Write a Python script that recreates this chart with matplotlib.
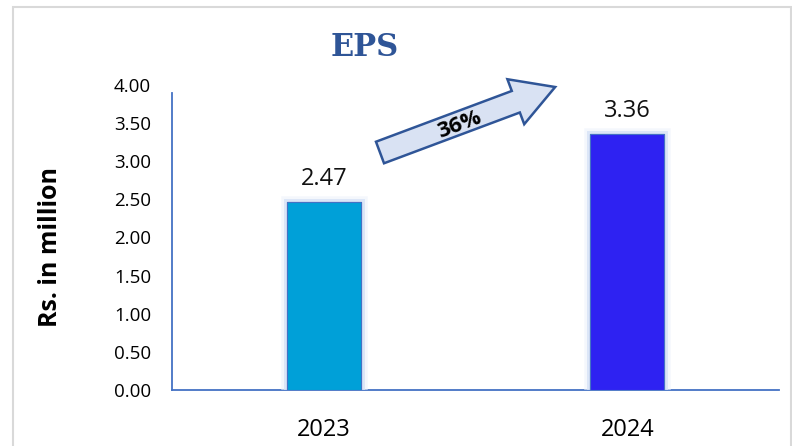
import numpy as np
import matplotlib
matplotlib.use("Agg")
import matplotlib.pyplot as plt
from matplotlib.patches import Polygon, Rectangle
import matplotlib.patheffects as pe

years = ["2023", "2024"]
eps = [2.47, 3.36]
value_labels = ["2.47", "3.36"]
yticks = [0.0, 0.5, 1.0, 1.5, 2.0, 2.5, 3.0, 3.5, 4.0]
ytick_labels = ["0.00", "0.50", "1.00", "1.50", "2.00", "2.50", "3.00", "3.50", "4.00"]
growth_label = "36%"
title = "EPS"
ylabel = "Rs. in million"
bar_colors = ["#00A0D8", "#2E22F2"]

W, H = 792, 446
fig = plt.figure(figsize=(W / 100, H / 100), dpi=100)
fig.patch.set_facecolor("white")

# outer frame
fig.add_artist(Rectangle((13 / W, -0.05), (W - 14) / W, 1 - 7 / H + 0.05,
                         transform=fig.transFigure, fill=False,
                         edgecolor="#D9D9D9", linewidth=1.5))

ax = fig.add_axes([172 / W, 1 - 390 / H, (779 - 172) / W, (390 - 85) / H])
x = np.arange(len(years))
glow = [pe.withStroke(linewidth=9, foreground="#EEF3FB", alpha=0.6),
        pe.withStroke(linewidth=5, foreground="#D6E2F6", alpha=0.8),
        pe.Normal()]
bars = ax.bar(x, eps, width=0.245, color=bar_colors, edgecolor="#4472C4",
              linewidth=0.8, zorder=3)
for b in bars:
    b.set_path_effects(glow)

for xi, v, lab in zip(x, eps, value_labels):
    ax.text(xi, v + 0.14, lab, ha="center", va="bottom", fontsize=17,
            family="Open Sans", color="#111111")

ax.set_xlim(-0.5, 1.5)
ax.set_ylim(0, 4.0)
ax.set_yticks(yticks)
ax.set_yticklabels(ytick_labels, family="Open Sans", fontsize=13.5)
ax.set_xticks(x)
ax.set_xticklabels(years, family="Open Sans", fontsize=17)
ax.tick_params(axis="y", length=0, pad=15)
ax.tick_params(axis="x", length=0, pad=20)
for s in ["top", "right"]:
    ax.spines[s].set_visible(False)
for s in ["left", "bottom"]:
    ax.spines[s].set_color("#4472C4")
    ax.spines[s].set_linewidth(1.3)
ax.spines["left"].set_bounds(0, 3.9)

fig.text(51 / W, 1 - 247 / H, ylabel, rotation=90, ha="center", va="center",
         fontsize=18, fontweight="bold", family="Open Sans")
fig.text(365 / W, 1 - 48 / H, title, ha="center", va="center", fontsize=22,
         fontweight="bold", family="DejaVu Serif", color="#2F5597")

# growth arrow (decoration)
ang = np.deg2rad(20.5)
u = np.array([np.cos(ang), -np.sin(ang)])
n = np.array([np.sin(ang), np.cos(ang)])
c = np.array([380.0, 152.5])
L, hl, bw, hw = 187.0, 42.0, 11.5, 24.0
pts_local = [(0, -bw), (L - hl, -bw), (L - hl, -hw), (L, 0), (L - hl, hw), (L - hl, bw), (0, bw)]
pts = [c + a * u + b * n for a, b in pts_local]
pts_fig = [(p[0] / W, 1 - p[1] / H) for p in pts]
fig.add_artist(Polygon(pts_fig, closed=True, transform=fig.transFigure,
                       facecolor="#D9E2F3", edgecolor="#2F5597", linewidth=1.8))
mid = c + 0.45 * L * u + 2.5 * n
fig.text(mid[0] / W, 1 - mid[1] / H, growth_label, rotation=20.5, ha="center",
         va="center", fontsize=16, fontweight="bold", family="Open Sans",
         rotation_mode="anchor")

fig.savefig("out.png", dpi=100)
